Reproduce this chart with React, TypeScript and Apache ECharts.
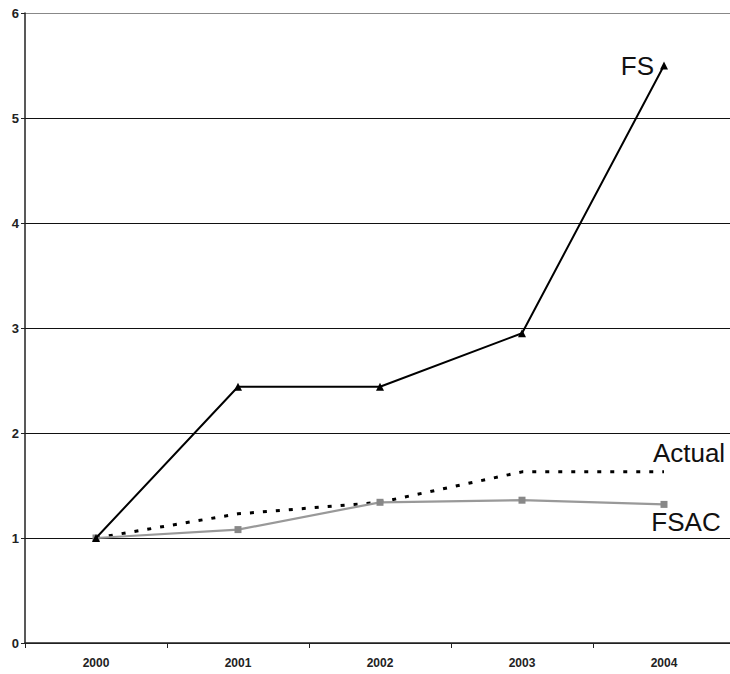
import React, { useEffect, useRef } from "react";
import * as echarts from "echarts";

const years = ["2000", "2001", "2002", "2003", "2004"];
const fsValues = [1.0, 2.44, 2.44, 2.95, 5.5];
const actualValues = [1.0, 1.23, 1.34, 1.63, 1.63];
const fsacValues = [1.0, 1.08, 1.34, 1.36, 1.32];
const seriesNames = ["FS", "Actual", "FSAC"];

export default function App() {
  const ref = useRef<HTMLDivElement>(null);
  useEffect(() => {
    if (!ref.current) return;
    const chart = echarts.init(ref.current, undefined, { renderer: "svg" });
    const font = "'Liberation Sans', Arial, sans-serif";
    const lastLabel = (vals: number[], text: string, label: any) =>
      vals.map((v, i) =>
        i === vals.length - 1
          ? { value: v, label: { show: true, formatter: text, fontSize: 26, color: "#111", fontFamily: font, ...label } }
          : v
      );
    chart.setOption({
      animation: false,
      backgroundColor: "#fff",
      grid: { left: 25, top: 13, width: 710, height: 630, containLabel: false },
      xAxis: {
        type: "category",
        data: years,
        boundaryGap: true,
        axisLine: { lineStyle: { color: "#222", width: 1.5 } },
        axisTick: { show: true, length: 5, alignWithLabel: false, lineStyle: { color: "#222" } },
        axisLabel: { color: "#222", fontSize: 12, fontWeight: "bold", fontFamily: font, margin: 14 },
      },
      yAxis: {
        type: "value",
        min: 0,
        max: 6,
        interval: 1,
        axisLine: { show: true, lineStyle: { color: "#222", width: 1.5 } },
        axisTick: { show: true, length: 4, lineStyle: { color: "#222" } },
        axisLabel: { color: "#222", fontSize: 13, fontWeight: "bold", fontFamily: font, margin: 6 },
        splitLine: {
          show: true,
          lineStyle: { color: ["#222", "#111", "#111", "#111", "#111", "#111", "#888"], width: 1.2 },
        },
      },
      series: [
        {
          name: seriesNames[0],
          type: "line",
          data: lastLabel(fsValues, "FS", { position: "left", distance: 6, offset: [0, 0] }),
          symbol: "triangle",
          symbolSize: 8,
          itemStyle: { color: "#000" },
          lineStyle: { color: "#000", width: 2 },
          z: 3,
        },
        {
          name: seriesNames[1],
          type: "line",
          data: lastLabel(actualValues, "Actual", { position: "top", distance: 6, offset: [25, 0] }),
          symbol: "circle",
          symbolSize: 0.01,
          showSymbol: true,
          itemStyle: { color: "rgba(0,0,0,0)" },
          lineStyle: { color: "#000", width: 3, type: [4, 9] },
          z: 2,
        },
        {
          name: seriesNames[2],
          type: "line",
          data: lastLabel(fsacValues, "FSAC", { position: "bottom", distance: 1, offset: [22, 0] }),
          symbol: "rect",
          symbolSize: 7,
          itemStyle: { color: "#888" },
          lineStyle: { color: "#999", width: 2.2 },
          z: 2,
        },
      ],
    });
    return () => chart.dispose();
  }, []);
  return (
    <div style={{ position: "fixed", left: 0, top: 0, width: 730, height: 674, overflow: "hidden", background: "#fff" }}>
      <div ref={ref} style={{ width: 736, height: 674 }} />
    </div>
  );
}
